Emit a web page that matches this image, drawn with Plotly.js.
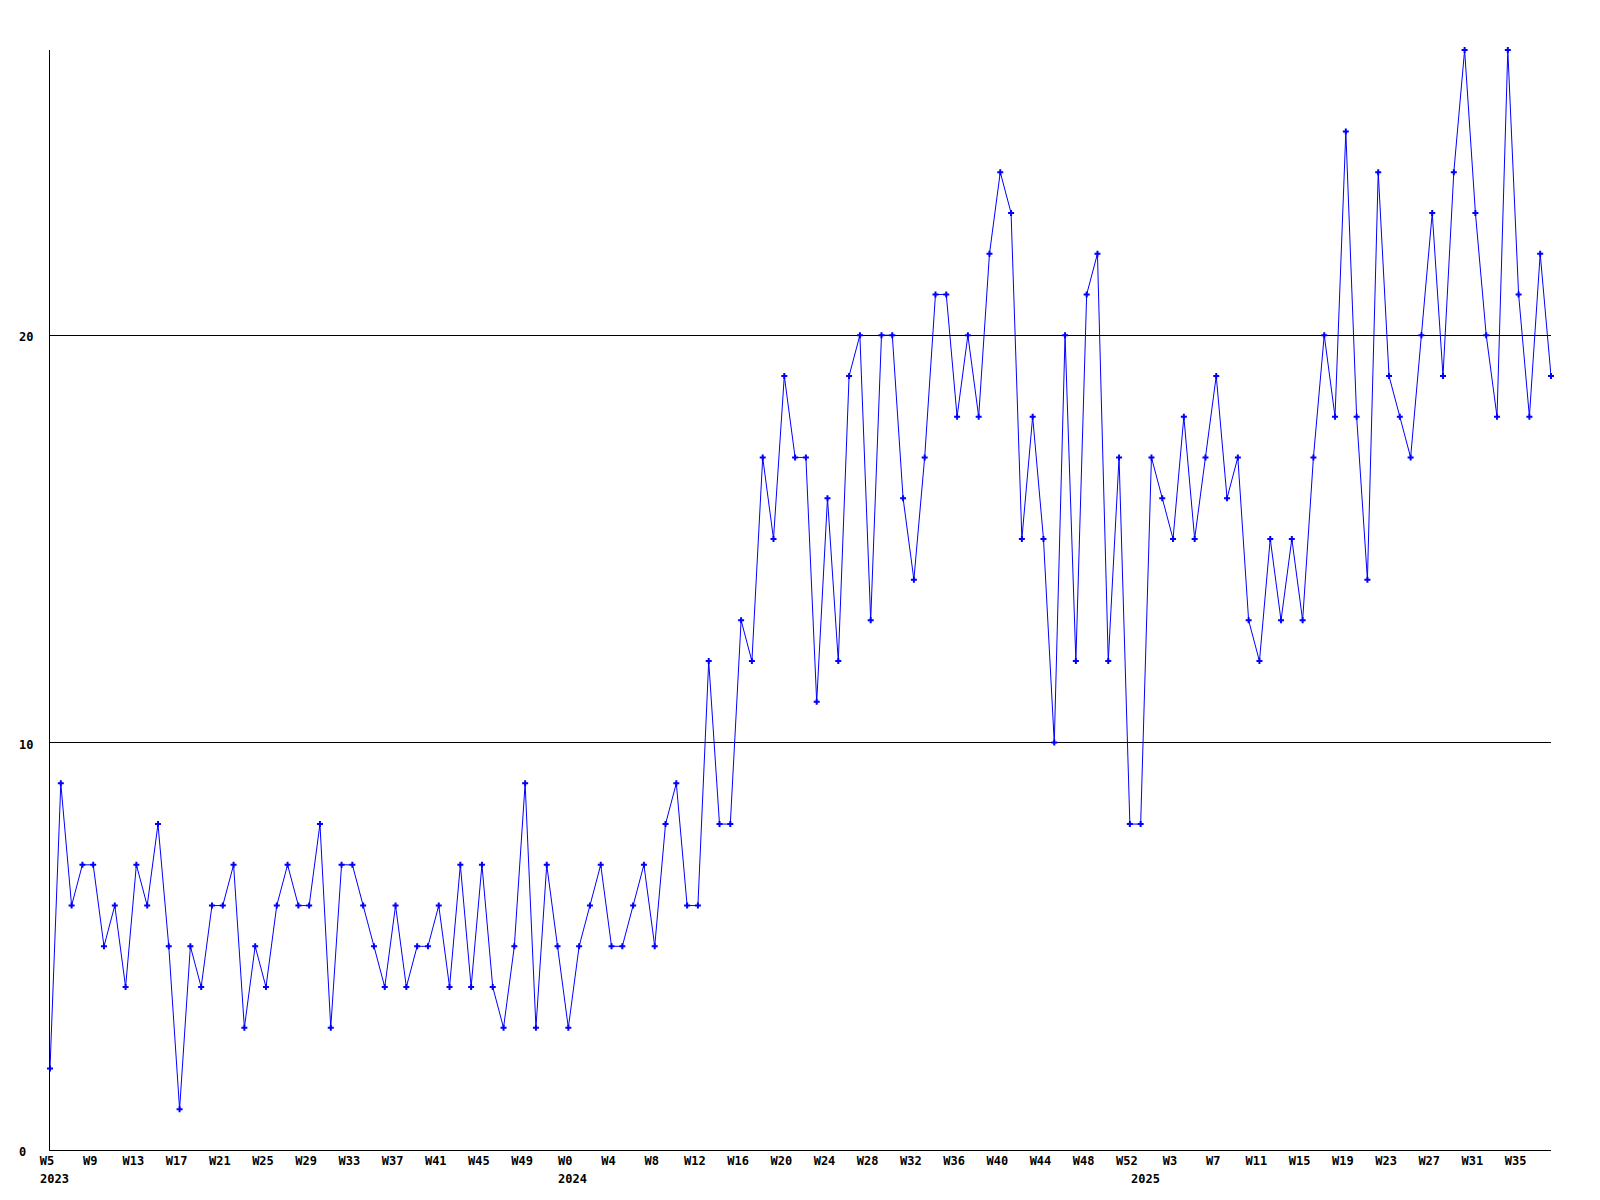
<!DOCTYPE html>
<html>
<head>
<meta charset="utf-8">
<script src="https://cdn.plot.ly/plotly-3.0.1.min.js"></script>
<style>html,body{margin:0;padding:0;background:#fff;}#chart{width:1600px;height:1200px;}</style>
</head>
<body>
<div id="chart"></div>
<script>
// Weekly series: 2023 W5 ... 2025 W38
const years = [2023, 2024, 2025];
const firstWeek = [5, 0, 0];
const lastWeek = [52, 52, 38];

const values = [
  2, 9, 6, 7, 7, 5, 6, 4, 7, 6,
  8, 5, 1, 5, 4, 6, 6, 7, 3, 5,
  4, 6, 7, 6, 6, 8, 3, 7, 7, 6,
  5, 4, 6, 4, 5, 5, 6, 4, 7, 4,
  7, 4, 3, 5, 9, 3, 7, 5, 3, 5,
  6, 7, 5, 5, 6, 7, 5, 8, 9, 6,
  6, 12, 8, 8, 13, 12, 17, 15, 19, 17,
  17, 11, 16, 12, 19, 20, 13, 20, 20, 16,
  14, 17, 21, 21, 18, 20, 18, 22, 24, 23,
  15, 18, 15, 10, 20, 12, 21, 22, 12, 17,
  8, 8, 17, 16, 15, 18, 15, 17, 19, 16,
  17, 13, 12, 15, 13, 15, 13, 17, 20, 18,
  25, 18, 14, 24, 19, 18, 17, 20, 23, 19,
  24, 27, 23, 20, 18, 27, 21, 18, 22, 19
];

const weekTicks = [
  "2023 W5","2023 W9","2023 W13","2023 W17","2023 W21","2023 W25","2023 W29","2023 W33","2023 W37","2023 W41","2023 W45","2023 W49",
  "2024 W0","2024 W4","2024 W8","2024 W12","2024 W16","2024 W20","2024 W24","2024 W28","2024 W32","2024 W36","2024 W40","2024 W44","2024 W48","2024 W52",
  "2025 W3","2025 W7","2025 W11","2025 W15","2025 W19","2025 W23","2025 W27","2025 W31","2025 W35"
];
const weekTickText = [
  "W5","W9","W13","W17","W21","W25","W29","W33","W37","W41","W45","W49",
  "W0","W4","W8","W12","W16","W20","W24","W28","W32","W36","W40","W44","W48","W52",
  "W3","W7","W11","W15","W19","W23","W27","W31","W35"
];
const yearTicks = ["2023 W5", "2024 W0", "2025 W0"];
const yearText = ["2023", "2024", "2025"];
const yTickVals = [0, 10, 20];
const yTickText = ["0", "10", "20"];

const periods = [];
for (let i = 0; i < years.length; i++) {
  for (let w = firstWeek[i]; w <= lastWeek[i]; w++) periods.push(years[i] + " W" + w);
}

const FONT = {family: "DejaVu Sans Mono, monospace", size: 12, color: "#000", weight: "bold"};

const annotations = [];
yearTicks.forEach((c, i) => annotations.push({
  xref: "x", yref: "paper", x: c, y: 0, xanchor: "left", yanchor: "top",
  xshift: -12, yshift: -20, text: yearText[i], showarrow: false, font: FONT
}));
yTickVals.forEach((v, i) => annotations.push({
  xref: "paper", yref: "y", x: 0, y: v, xanchor: "left", yanchor: "middle",
  xshift: -33, yshift: -2, text: yTickText[i], showarrow: false, font: FONT
}));

const trace = {
  type: "scatter", mode: "lines+markers",
  x: periods, y: values,
  line: {color: "#0000ff", width: 1},
  marker: {symbol: "cross", size: 5, color: "#0000ff", line: {width: 0}},
  cliponaxis: false, hoverinfo: "x+y"
};

const layout = {
  width: 1600, height: 1200,
  margin: {l: 50, r: 49, t: 50, b: 50},
  paper_bgcolor: "#fff", plot_bgcolor: "#fff",
  showlegend: false,
  xaxis: {
    type: "category", range: [0, periods.length - 1],
    tickmode: "array", tickvals: weekTicks, ticktext: weekTickText,
    showgrid: false, zeroline: false, showline: true, linecolor: "#000", linewidth: 1,
    ticks: "", tickfont: FONT, ticklabelshift: -3, tickangle: 0
  },
  yaxis: {
    range: [0, 27], tickmode: "array", tickvals: [10, 20],
    showgrid: true, gridcolor: "#000", gridwidth: 1,
    zeroline: false, showline: true, linecolor: "#000", linewidth: 1,
    ticks: "", showticklabels: false
  },
  annotations: annotations
};

Plotly.newPlot("chart", [trace], layout, {displayModeBar: false, staticPlot: true});
</script>
</body>
</html>
